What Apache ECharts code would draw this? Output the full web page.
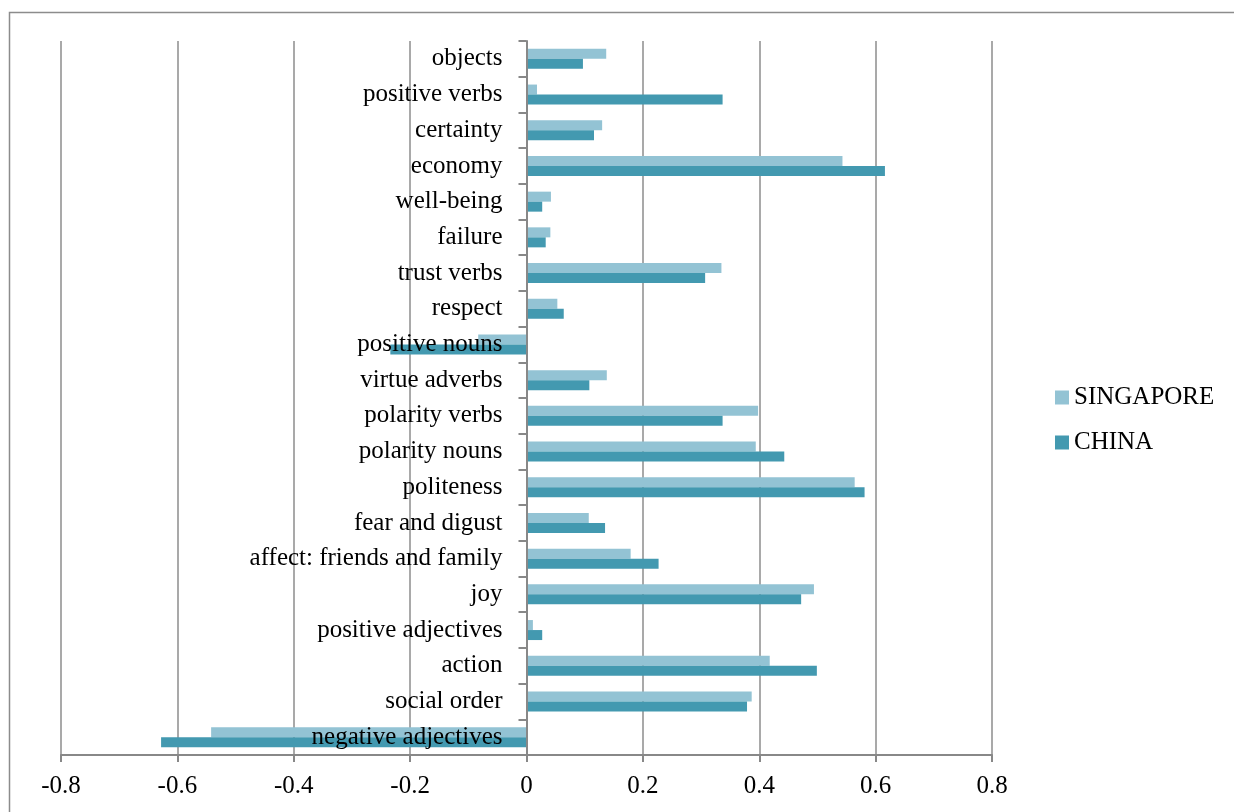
<!DOCTYPE html>
<html>
<head>
<meta charset="utf-8">
<script src="https://cdn.jsdelivr.net/npm/echarts@6/dist/echarts.min.js"></script>
<style>
  html, body { margin: 0; padding: 0; background: #ffffff; }
  #chart { width: 1234px; height: 812px; }
</style>
</head>
<body>
<div id="chart"></div>
<script>
// Categories listed bottom-to-top (ECharts category yAxis starts at bottom)
const categories = [
  'negative adjectives', 'social order', 'action', 'positive adjectives', 'joy',
  'affect: friends and family', 'fear and digust', 'politeness', 'polarity nouns',
  'polarity verbs', 'virtue adverbs', 'positive nouns', 'respect', 'trust verbs',
  'failure', 'well-being', 'economy', 'certainty', 'positive verbs', 'objects'
];
const singapore = [-0.542, 0.387, 0.418, 0.011, 0.494, 0.179, 0.107, 0.564, 0.394, 0.398,
                   0.138, -0.083, 0.053, 0.335, 0.041, 0.042, 0.543, 0.130, 0.018, 0.137];
const china     = [-0.628, 0.379, 0.499, 0.027, 0.472, 0.227, 0.135, 0.581, 0.443, 0.337,
                   0.108, -0.234, 0.064, 0.307, 0.033, 0.027, 0.616, 0.116, 0.337, 0.097];
const seriesNames = ['SINGAPORE', 'CHINA'];
const xMin = -0.8, xMax = 0.8, xStep = 0.2;

const FONT = '"Liberation Serif", "Times New Roman", serif';
const GRID_LEFT = 61, GRID_RIGHT = 242;
const plotWidth = 1234 - GRID_LEFT - GRID_RIGHT;
// shift the category axis from the grid's left edge to the x = 0 position
const zeroOffset = -plotWidth * (0 - xMin) / (xMax - xMin);

const chart = echarts.init(document.getElementById('chart'), null, { renderer: 'canvas' });

chart.setOption({
  backgroundColor: '#ffffff',
  animation: false,
  graphic: [{
    type: 'rect',
    shape: { x: 9.5, y: 12.5, width: 1240, height: 820 },
    style: { fill: 'none', stroke: '#8c8c8c', lineWidth: 1.5 },
    silent: true
  }],
  grid: {
    left: GRID_LEFT, right: GRID_RIGHT, top: 41, bottom: 57,
    containLabel: false, outerBoundsMode: 'none'
  },
  legend: {
    data: seriesNames,
    orient: 'vertical',
    left: 1050,
    top: 380,
    itemWidth: 14,
    itemHeight: 14,
    itemGap: 20,
    icon: 'rect',
    textStyle: { fontFamily: FONT, fontSize: 25, color: '#000000' }
  },
  xAxis: {
    type: 'value',
    min: xMin,
    max: xMax,
    interval: xStep,
    axisLine: { show: true, onZero: false, lineStyle: { color: '#888888', width: 2 } },
    axisTick: { show: true, length: 7, lineStyle: { color: '#888888', width: 2 } },
    axisLabel: { fontFamily: FONT, fontSize: 25, color: '#000000', margin: 19 },
    splitLine: { show: true, lineStyle: { color: '#8c8c8c', width: 1.5 } }
  },
  yAxis: {
    type: 'category',
    data: categories,
    position: 'left',
    offset: zeroOffset,
    z: 10,
    axisLine: { show: true, onZero: false, lineStyle: { color: '#888888', width: 2 } },
    axisTick: { show: true, length: 8, lineStyle: { color: '#888888', width: 2 } },
    axisLabel: { fontFamily: FONT, fontSize: 25, color: '#000000', margin: 24 },
    splitLine: { show: false }
  },
  series: [
    {
      name: 'SINGAPORE',
      type: 'bar',
      data: singapore,
      barWidth: 10,
      barGap: '0%',
      itemStyle: { color: '#93c3d4' }
    },
    {
      name: 'CHINA',
      type: 'bar',
      data: china,
      barWidth: 10,
      barGap: '0%',
      itemStyle: { color: '#4399b0' }
    }
  ]
});
</script>
</body>
</html>
